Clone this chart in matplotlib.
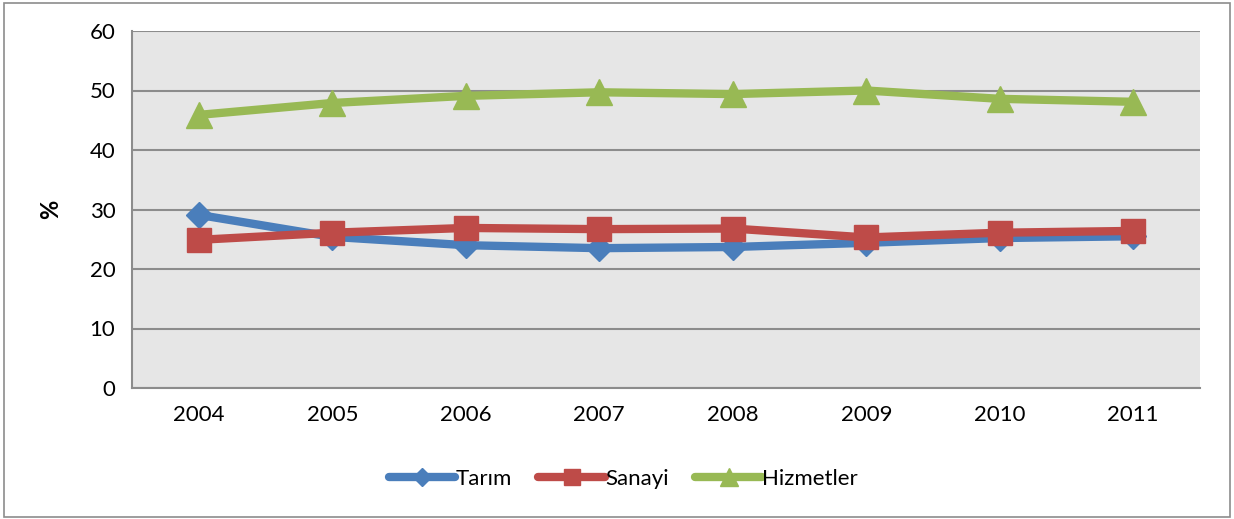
import matplotlib.pyplot as plt
import numpy as np

years = ['2004', '2005', '2006', '2007', '2008', '2009', '2010', '2011']
tarim = [29.1, 25.4, 24.0, 23.5, 23.7, 24.4, 25.2, 25.5]
sanayi = [24.9, 26.1, 26.9, 26.7, 26.8, 25.3, 26.1, 26.4]
hizmetler = [45.9, 47.9, 49.1, 49.7, 49.4, 50.0, 48.6, 48.1]

plt.rcParams['font.family'] = ['Lato', 'DejaVu Sans']

fig = plt.figure(figsize=(12.34, 5.19), dpi=100)
ax = fig.add_axes([132/1234, 1 - 388/519, 1068/1234, 357/519])

x = np.arange(len(years))
ax.plot(x, tarim, color='#4a7ebb', lw=6, marker='D', ms=13, label='Tarım', zorder=3,
        solid_capstyle='round')
ax.plot(x, sanayi, color='#be4b48', lw=6, marker='s', ms=17, label='Sanayi', zorder=4,
        solid_capstyle='round')
ax.plot(x, hizmetler, color='#98b954', lw=6, marker='^', ms=19, label='Hizmetler', zorder=3,
        solid_capstyle='round')

ax.set_facecolor('#e6e6e6')
ax.set_xlim(-0.5, 7.5)
ax.set_ylim(0, 60)
ax.set_yticks(range(0, 61, 10))
ax.set_xticks(x, years)
ax.grid(True, axis='y', color='#8c8c8c', lw=1.5)
ax.set_axisbelow(True)
ax.tick_params(length=0, labelsize=16, pad=12)
for side in ['top', 'right']:
    ax.spines[side].set_visible(False)
for side in ['left', 'bottom']:
    ax.spines[side].set_color('#8c8c8c')
    ax.spines[side].set_linewidth(1.5)
ax.set_ylabel('%', fontsize=17, fontweight='bold', labelpad=20)

ax.legend(loc='center', bbox_to_anchor=(0.46, -0.255), ncol=3, frameon=False,
          fontsize=16, handlelength=3.0, handletextpad=0.0, columnspacing=1.2,
          markerscale=0.7)

fig.patches.append(plt.Rectangle((0.003, 0.004), 0.994, 0.99, transform=fig.transFigure,
                                 fill=False, edgecolor='#8c8c8c', lw=1.2))

fig.savefig('out.png', dpi=100)
